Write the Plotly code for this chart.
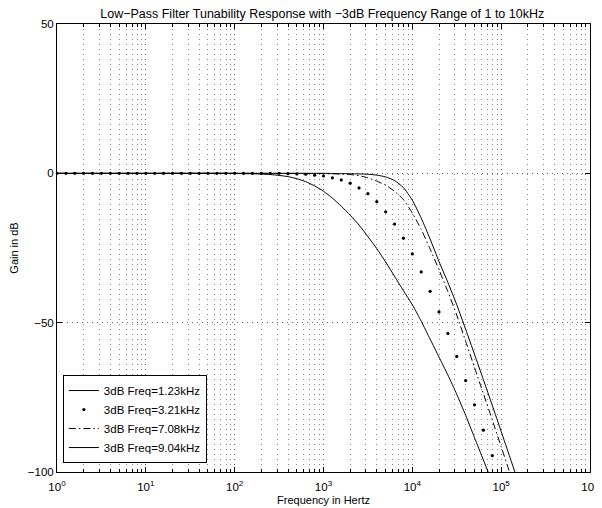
import plotly.graph_objects as go

# ---- data (x given as log10 of frequency in Hz, y in dB) ----
exp_a = [0, 1, 2.0, 2.1, 2.2, 2.3, 2.4, 2.5, 2.6, 2.7, 2.8, 2.9, 3.0, 3.1, 3.2, 3.3, 3.4, 3.5,
         3.6, 3.7, 3.8, 3.9, 4.0, 4.1, 4.2, 4.3, 4.4, 4.5, 4.6, 4.7, 4.8, 4.9]
gain_a = [0, 0, 0, -0.1, -0.15, -0.25, -0.4, -0.7, -1.1, -1.8, -2.8, -4.2, -6.0, -8.3, -11.0,
          -14.0, -17.3, -21.2, -25.2, -29.7, -34.5, -39.3, -44.0, -49.5, -55.5, -61.5, -67.5,
          -74.0, -81.0, -88.5, -96.0, -103.5]

exp_b = [0.0, 0.1, 0.2, 0.3, 0.4, 0.5, 0.6, 0.7, 0.8, 0.9, 1.0, 1.1, 1.2, 1.3, 1.4, 1.5, 1.6,
         1.7, 1.8, 1.9, 2.0, 2.1, 2.2, 2.3, 2.4, 2.5, 2.6, 2.7, 2.8, 2.9, 3.0, 3.1, 3.2, 3.3,
         3.4, 3.5, 3.6, 3.7, 3.8, 3.9, 4.0, 4.1, 4.2, 4.3, 4.4, 4.5, 4.6, 4.7, 4.8, 4.9]
gain_b = [0, 0, 0, 0, 0, 0, 0, 0, 0, 0, 0, 0, 0, 0, 0, 0, 0, 0, 0, 0, 0, 0, 0, 0, 0, 0,
          -0.1, -0.2, -0.3, -0.6, -0.9, -1.5, -2.2, -3.3, -4.9, -6.8, -9.5, -12.9, -17.0,
          -21.7, -27.0, -33.0, -39.5, -46.4, -53.6, -61.3, -69.4, -77.5, -86.0, -94.5]

exp_c = [0, 1, 2, 3.0, 3.1, 3.2, 3.3, 3.4, 3.5, 3.6, 3.7, 3.8, 3.9, 4.0, 4.1, 4.2, 4.3, 4.4,
         4.5, 4.6, 4.7, 4.8, 4.9, 5.0, 5.1, 5.2]
gain_c = [0, 0, 0, -0.1, -0.15, -0.25, -0.4, -0.8, -1.5, -2.6, -4.0, -6.0, -8.8, -13.3, -18.8,
          -25.3, -32.3, -39.6, -47.5, -56.2, -65.0, -73.8, -82.6, -91.5, -100.5, -109.5]

exp_d = [0, 1, 2, 3.0, 3.1, 3.2, 3.3, 3.4, 3.5, 3.6, 3.7, 3.8, 3.9, 4.0, 4.1, 4.2, 4.3, 4.4,
         4.5, 4.6, 4.7, 4.8, 4.9, 5.0, 5.1, 5.2]
gain_d = [0, 0, 0, 0, -0.05, -0.1, -0.15, -0.2, -0.3, -0.6, -1.2, -2.4, -4.8, -9.0, -15.0,
          -22.0, -29.5, -36.5, -44.0, -52.2, -60.6, -69.1, -77.7, -86.4, -95.2, -104.0]

names = ["3dB Freq=1.23kHz", "3dB Freq=3.21kHz", "3dB Freq=7.08kHz", "3dB Freq=9.04kHz"]

x_tick_exps = [0, 1, 2, 3, 4, 5, 6]
y_ticks = [-100, -50, 0, 50]
y_tick_text = ["\u2212100", "\u221250", "0", "50"]
title_text = "Low\u2212Pass Filter Tunability Response with \u22123dB Frequency Range of 1 to 10kHz"

# ---- figure ----
def hz(exps):
    return [10 ** e for e in exps]

FONT = "Liberation Sans, Arial, Helvetica, sans-serif"

fig = go.Figure()
fig.add_trace(go.Scatter(x=hz(exp_a), y=gain_a, mode="lines", name=names[0],
                         line=dict(color="black", width=1, shape="spline", smoothing=0.6)))
fig.add_trace(go.Scatter(x=hz(exp_b), y=gain_b, mode="markers", name=names[1],
                         marker=dict(color="black", size=3.2, symbol="circle")))
fig.add_trace(go.Scatter(x=hz(exp_c), y=gain_c, mode="lines", name=names[2],
                         line=dict(color="black", width=1, dash="7px,3px,1.5px,3px",
                                   shape="spline", smoothing=0.6)))
fig.add_trace(go.Scatter(x=hz(exp_d), y=gain_d, mode="lines", name=names[3],
                         line=dict(color="black", width=1, shape="spline", smoothing=0.6)))

minor_x = [m * 10 ** d for d in range(0, 6) for m in range(2, 10)]

# the page body adds an 8px offset, margins compensate for it
fig.update_layout(
    width=602, height=508,
    margin=dict(l=49, r=20, t=16, b=44),
    paper_bgcolor="white", plot_bgcolor="white",
    font=dict(family=FONT, size=11, color="black"),
    title=dict(text=title_text, x=0.522, xanchor="center", y=0.989, yanchor="middle",
               font=dict(size=12.5)),
    showlegend=True,
    legend=dict(x=0.011, y=0.02, xanchor="left", yanchor="bottom",
                bgcolor="white", bordercolor="black", borderwidth=1,
                font=dict(size=11.5), tracegroupgap=0, itemwidth=30),
)

fig.update_xaxes(
    type="log", range=[0, 6], automargin=False,
    tickvals=hz(x_tick_exps),
    ticktext=["10<sup>%d</sup>" % e for e in x_tick_exps],
    ticks="inside", ticklen=5, tickcolor="black", tickwidth=1,
    ticklabelstandoff=4,
    showline=True, linecolor="black", linewidth=1, mirror="allticks",
    showgrid=True, gridcolor="#666", gridwidth=1, griddash="1px,4px",
    zeroline=False,
    minor=dict(tickvals=minor_x, ticks="inside", ticklen=3, tickcolor="black",
               showgrid=True, gridcolor="#888", gridwidth=1, griddash="1px,4px"),
    title=dict(text="Frequency in Hertz", font=dict(size=11), standoff=4),
    tickfont=dict(size=11.5),
)
fig.update_yaxes(
    range=[-100, 50], automargin=False,
    tickvals=y_ticks, ticktext=y_tick_text,
    ticks="inside", ticklen=5, tickcolor="black", tickwidth=1,
    showline=True, linecolor="black", linewidth=1, mirror="allticks",
    showgrid=True, gridcolor="#666", gridwidth=1, griddash="1px,4px",
    zeroline=False,
    title=dict(text="Gain in dB", font=dict(size=11), standoff=8),
    tickfont=dict(size=11.5),
)

fig.write_html("out.html")
